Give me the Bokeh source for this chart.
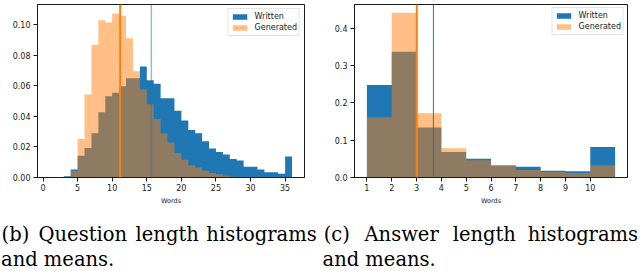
from bokeh.plotting import figure
from bokeh.models import Range1d, FixedTicker, Span, Legend, LegendItem, NumeralTickFormatter
from bokeh.layouts import column, row
from bokeh.embed import file_html
from bokeh.resources import INLINE
from bokeh.core.properties import value

# ---------------- data ----------------
# (b) question length histogram: density per 1-word bin, bins start at 3 words
q_first_bin = 3
q_written = [0.0008, 0.0052, 0.0143, 0.0193, 0.0290, 0.0427, 0.0533, 0.0555, 0.0598,
             0.0650, 0.0650, 0.0728, 0.0637, 0.0615, 0.0520, 0.0520, 0.0438, 0.0373,
             0.0312, 0.0290, 0.0237, 0.0190, 0.0167, 0.0151, 0.0121, 0.0112, 0.0070,
             0.0070, 0.0052, 0.0035, 0.0035, 0.0025, 0.0137]
q_generated = [0.0000, 0.0043, 0.0253, 0.0544, 0.0870, 0.1030, 0.1016, 0.1075, 0.1060,
               0.0912, 0.0696, 0.0577, 0.0480, 0.0384, 0.0290, 0.0230, 0.0160, 0.0117,
               0.0080, 0.0065, 0.0045, 0.0030, 0.0022, 0.0012, 0.0005, 0.0003, 0.0002,
               0.0001, 0.0001, 0.0000, 0.0000, 0.0000, 0.0000]
q_mean_written = 15.66
q_mean_generated = 11.15
q_xticks = [0, 5, 10, 15, 20, 25, 30, 35]
q_yticks = [0.00, 0.02, 0.04, 0.06, 0.08, 0.10]

# (c) answer length histogram: bins 1..10 (last bin = 10+)
a_bins = [1, 2, 3, 4, 5, 6, 7, 8, 9, 10]
a_written = [0.2475, 0.3367, 0.1338, 0.0680, 0.0499, 0.0320, 0.0289, 0.0180, 0.0165, 0.0814]
a_generated = [0.1617, 0.4417, 0.1720, 0.0787, 0.0460, 0.0335, 0.0200, 0.0150, 0.0120, 0.0330]
a_mean_written = 3.68
a_mean_generated = 3.01
a_xticks = [1, 2, 3, 4, 5, 6, 7, 8, 9, 10]
a_yticks = [0.0, 0.1, 0.2, 0.3, 0.4]

series_labels = ["Written", "Generated"]
x_label = "Words"
caption_line1 = ["(b)", "Question", "length", "histograms", "(c)", "Answer", "length", "histograms"]
caption_line2 = ["and means.", "and means."]

# ---------------- style ----------------
BLUE = "#1f77b4"
ORANGE = "#ff7f0e"
INK = "#1a1a1a"
TICK_FONT = "8px"


def step_outline(edges, vals):
    xs = [edges[0]]
    ys = [0.0]
    for i, v in enumerate(vals):
        xs += [edges[i], edges[i + 1]]
        ys += [v, v]
    xs.append(edges[-1])
    ys.append(0.0)
    return xs, ys


def make_chart(width, height, xr, yr, b_left, b_right, b_top, b_bottom):
    p = figure(width=width, height=height, x_range=xr, y_range=yr,
               output_backend="svg", toolbar_location=None,
               min_border_left=b_left, min_border_right=b_right,
               min_border_top=b_top, min_border_bottom=b_bottom)
    p.xgrid.visible = False
    p.ygrid.visible = False
    p.outline_line_color = INK
    p.outline_line_width = 1
    p.background_fill_color = "white"
    p.border_fill_color = "white"
    for ax in (p.xaxis[0], p.yaxis[0]):
        ax.axis_line_color = INK
        ax.axis_line_width = 1
        ax.major_tick_line_color = INK
        ax.major_tick_out = 4
        ax.major_tick_in = 0
        ax.minor_tick_line_color = None
        ax.major_label_text_font = "DejaVu Sans"
        ax.major_label_text_font_size = TICK_FONT
        ax.major_label_text_color = INK
    p.xaxis.major_label_standoff = 2
    p.yaxis.major_label_standoff = 3
    p.xaxis.axis_label = x_label
    p.xaxis.axis_label_text_font = "DejaVu Sans"
    p.xaxis.axis_label_text_font_size = "6.5px"
    p.xaxis.axis_label_text_font_style = "normal"
    p.xaxis.axis_label_text_color = INK
    p.xaxis.axis_label_standoff = 3
    return p


def draw_hists(p, edges, written, generated, m_written, m_generated, blue_line_w, blue_line_a, margin):
    bx, by = step_outline(edges, written)
    ox, oy = step_outline(edges, generated)
    rb = p.patch(bx, by, fill_color=BLUE, fill_alpha=1.0, line_color=None)
    ro = p.patch(ox, oy, fill_color=ORANGE, fill_alpha=0.5, line_color=None)
    p.add_layout(Span(location=m_written, dimension="height", line_color=BLUE,
                      line_width=blue_line_w, line_alpha=blue_line_a))
    p.add_layout(Span(location=m_generated, dimension="height", line_color=ORANGE,
                      line_width=2))
    legend = Legend(items=[LegendItem(label=series_labels[0], renderers=[rb]),
                           LegendItem(label=series_labels[1], renderers=[ro])],
                    location="top_right", margin=margin, padding=2, spacing=0,
                    glyph_width=18, glyph_height=7, label_height=11, label_standoff=6,
                    label_text_font="DejaVu Sans", label_text_font_size=TICK_FONT,
                    label_text_color=INK,
                    border_line_color="#cccccc", border_line_width=1,
                    background_fill_color="white", background_fill_alpha=0.8)
    p.add_layout(legend)


CHART_H = 207

# ---- (b) question lengths ----
q_edges = [q_first_bin + i for i in range(len(q_written) + 1)]
fb = make_chart(320, CHART_H, Range1d(-0.8, 37.8), Range1d(0, 0.1134), 37, 16, 4, 29)
draw_hists(fb, q_edges, q_written, q_generated, q_mean_written, q_mean_generated, 1.4, 0.5, 4)
fb.xaxis.ticker = FixedTicker(ticks=q_xticks)
fb.yaxis.ticker = FixedTicker(ticks=q_yticks)
fb.yaxis.formatter = NumeralTickFormatter(format="0.00")

# ---- (c) answer lengths ----
a_edges = a_bins + [a_bins[-1] + 1]
fc = make_chart(320, CHART_H, Range1d(0.5, 11.5), Range1d(0, 0.4635), 34, 13, 2, 29)
draw_hists(fc, a_edges, a_written, a_generated, a_mean_written, a_mean_generated, 1, 1.0, 3)
fc.xaxis.ticker = FixedTicker(ticks=a_xticks)
fc.yaxis.ticker = FixedTicker(ticks=a_yticks)
fc.yaxis.formatter = NumeralTickFormatter(format="0.0")

# ---- caption ----
CAP_W, CAP_H = 640, 64
cap = figure(width=CAP_W, height=CAP_H, x_range=Range1d(0, CAP_W), y_range=Range1d(0, CAP_H),
             output_backend="svg", toolbar_location=None, min_border=0,
             x_axis_location=None, y_axis_location=None)
cap.xgrid.visible = False
cap.ygrid.visible = False
cap.outline_line_color = None
cap.border_fill_color = "white"
line1_x = [14.9, 82.3, 166.7, 261.0, 336.2, 401.1, 483.8, 582.4]
line1_y = [37.0] * len(caption_line1)
line2_x = [0.5, 322.0]
line2_y = [12.5] * len(caption_line2)
cap.text(x=line1_x, y=line1_y, text=caption_line1, text_font=value("DejaVu Serif"),
         text_font_size=value("19.5px"), text_align="center", text_baseline="alphabetic",
         text_color="black")
cap.text(x=line2_x, y=line2_y, text=caption_line2, text_font=value("DejaVu Serif"),
         text_font_size=value("19.5px"), text_align="left", text_baseline="alphabetic",
         text_color="black")

layout = column(row(fb, fc, spacing=0), cap, spacing=0)
open("out.html", "w").write(file_html(layout, INLINE))
